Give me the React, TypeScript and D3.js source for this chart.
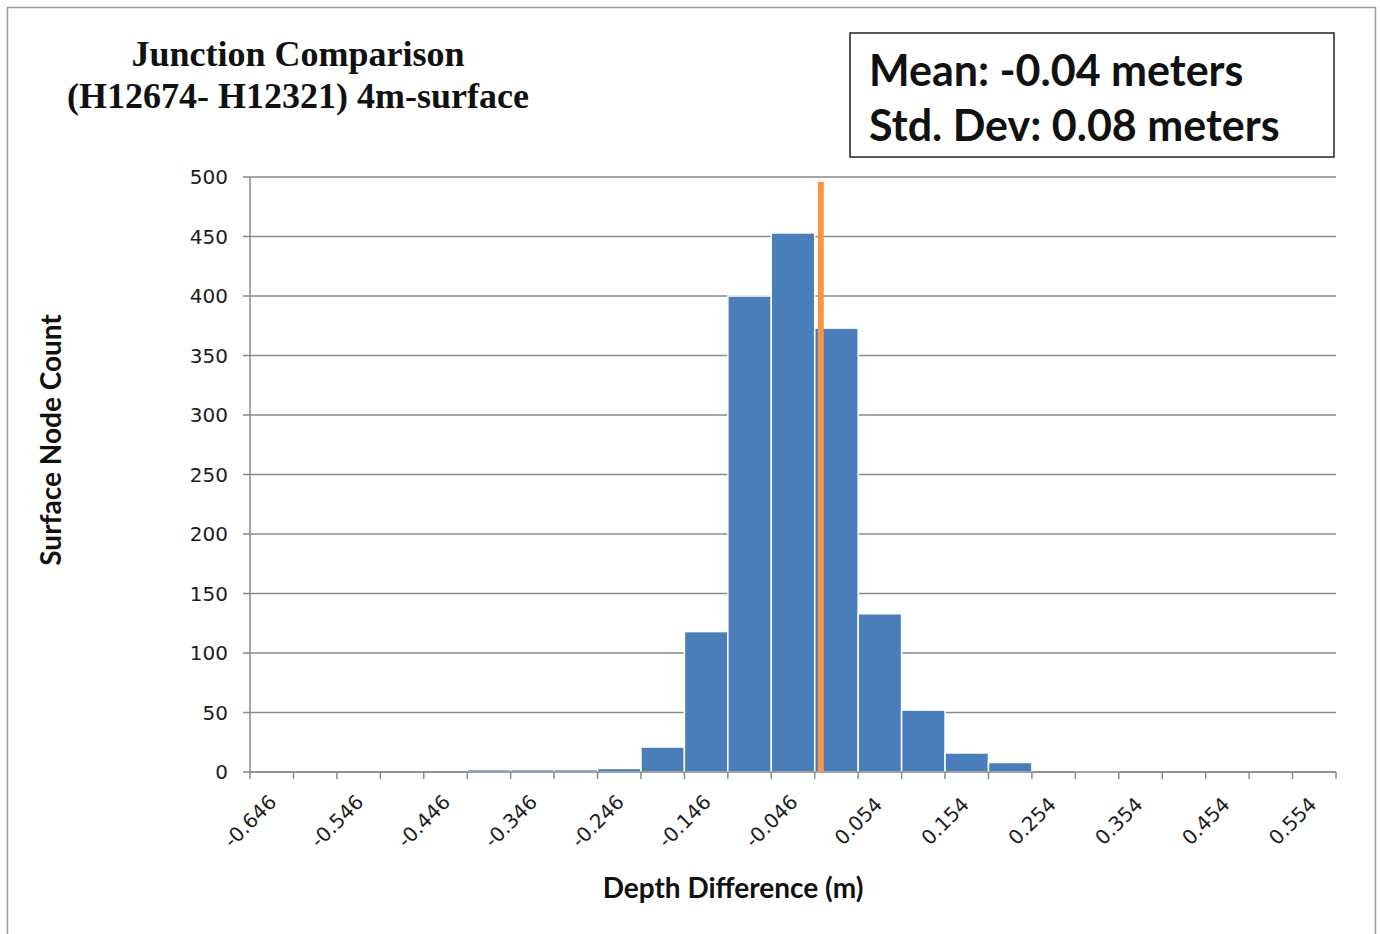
import React from "react";
import * as d3 from "d3";

// Histogram bins (lower edge of each 0.05 m bin) and node counts
const binStarts = [
  -0.646, -0.596, -0.546, -0.496, -0.446, -0.396, -0.346, -0.296, -0.246, -0.196,
  -0.146, -0.096, -0.046, 0.004, 0.054, 0.104, 0.154, 0.204, 0.254, 0.304,
  0.354, 0.404, 0.454, 0.504, 0.554,
];
const counts = [
  0, 0, 0, 0, 0, 2, 2, 2, 3, 21,
  118, 400, 453, 373, 133, 52, 16, 8, 0, 1,
  0, 0, 0, 0, 0,
];
const binWidth = 0.05;
const xTickLabels = [
  "-0.646", "-0.546", "-0.446", "-0.346", "-0.246", "-0.146", "-0.046",
  "0.054", "0.154", "0.254", "0.354", "0.454", "0.554",
];
const yTicks = [0, 50, 100, 150, 200, 250, 300, 350, 400, 450, 500];
const meanMarker = { x: 0.011, top: 496 };

const titleLines = ["Junction Comparison", "(H12674- H12321) 4m-surface"];
const statLines = ["Mean: -0.04 meters", "Std. Dev: 0.08 meters"];

const W = 1380;
const H = 934;
const plot = { left: 250, right: 1336, top: 177, bottom: 772 };

export default function App() {
  const x = d3
    .scaleLinear()
    .domain([binStarts[0], binStarts[binStarts.length - 1] + binWidth])
    .range([plot.left, plot.right]);
  const y = d3.scaleLinear().domain([0, 500]).range([plot.bottom, plot.top]);

  const edges = [...binStarts, binStarts[binStarts.length - 1] + binWidth];
  const axisColor = "#8a8a8a";
  const textColor = "#1c1c1c";
  const tickFont = "'DejaVu Sans', Verdana, sans-serif";

  return (
    <svg
      width={W}
      height={H}
      style={{ position: "absolute", left: 0, top: 0, background: "#fff" }}
    >
      {/* outer frame */}
      <rect x={7.5} y={7.5} width={1368} height={940} fill="none" stroke="#9a9a9a" strokeWidth={1.5} />

      {/* title */}
      <g fontFamily="'Liberation Serif', 'Times New Roman', serif" fontWeight="bold" fontSize={36} fill="#111" textAnchor="middle">
        {titleLines.map((t, i) => (
          <text key={i} x={298} y={66 + i * 42}>{t}</text>
        ))}
      </g>

      {/* statistics box */}
      <rect x={850} y={33} width={484} height={124} fill="#fff" stroke="#222" strokeWidth={1.5} />
      <g fontFamily="Lato, 'Open Sans', sans-serif" fontWeight="bold" fontSize={43} fill="#111">
        {statLines.map((t, i) => (
          <text key={i} x={869} y={86 + i * 55}>{t}</text>
        ))}
      </g>

      {/* horizontal gridlines + y ticks */}
      {yTicks.map((v) => (
        <g key={v}>
          <line x1={243} x2={plot.right} y1={y(v)} y2={y(v)} stroke={axisColor} strokeWidth={1.5} />
          <text
            x={228}
            y={y(v)}
            dy="0.36em"
            textAnchor="end"
            fontFamily={tickFont}
            fontSize={20}
            fill={textColor}
          >
            {v}
          </text>
        </g>
      ))}

      {/* y axis line */}
      <line x1={plot.left} x2={plot.left} y1={plot.top} y2={plot.bottom} stroke={axisColor} strokeWidth={1.5} />

      {/* bars */}
      {counts.map((c, i) =>
        c > 0 ? (
          <rect
            key={i}
            x={x(binStarts[i])}
            y={y(c)}
            width={x(binStarts[i] + binWidth) - x(binStarts[i])}
            height={y(0) - y(c)}
            fill="#4a7ebb"
            stroke="#fff"
            strokeWidth={1.5}
          />
        ) : null
      )}

      {/* x axis ticks at every bin edge */}
      {edges.map((e, i) => (
        <line key={i} x1={x(e)} x2={x(e)} y1={plot.bottom} y2={plot.bottom + 7} stroke={axisColor} strokeWidth={1.5} />
      ))}
      <line x1={plot.left} x2={plot.right} y1={plot.bottom} y2={plot.bottom} stroke={axisColor} strokeWidth={1.5} />

      {/* x tick labels, rotated */}
      {xTickLabels.map((t) => {
        const xv = x(+t);
        return (
          <text
            key={t}
            transform={`translate(${xv + 5},${plot.bottom + 54}) rotate(-45)`}
            textAnchor="middle"
            fontFamily={tickFont}
            fontSize={20}
            fill={textColor}
          >
            {t}
          </text>
        );
      })}

      {/* mean marker */}
      <line
        x1={x(meanMarker.x)}
        x2={x(meanMarker.x)}
        y1={y(meanMarker.top)}
        y2={y(0)}
        stroke="#f79646"
        strokeWidth={6}
      />

      {/* axis titles */}
      <text
        x={733}
        y={898}
        textAnchor="middle"
        fontFamily="Lato, 'Open Sans', sans-serif"
        fontWeight="bold"
        fontSize={28}
        fill="#111"
      >
        Depth Difference (m)
      </text>
      <text
        transform={`translate(61,440) rotate(-90)`}
        textAnchor="middle"
        fontFamily="Lato, 'Open Sans', sans-serif"
        fontWeight="bold"
        fontSize={28}
        fill="#111"
      >
        Surface Node Count
      </text>
    </svg>
  );
}
